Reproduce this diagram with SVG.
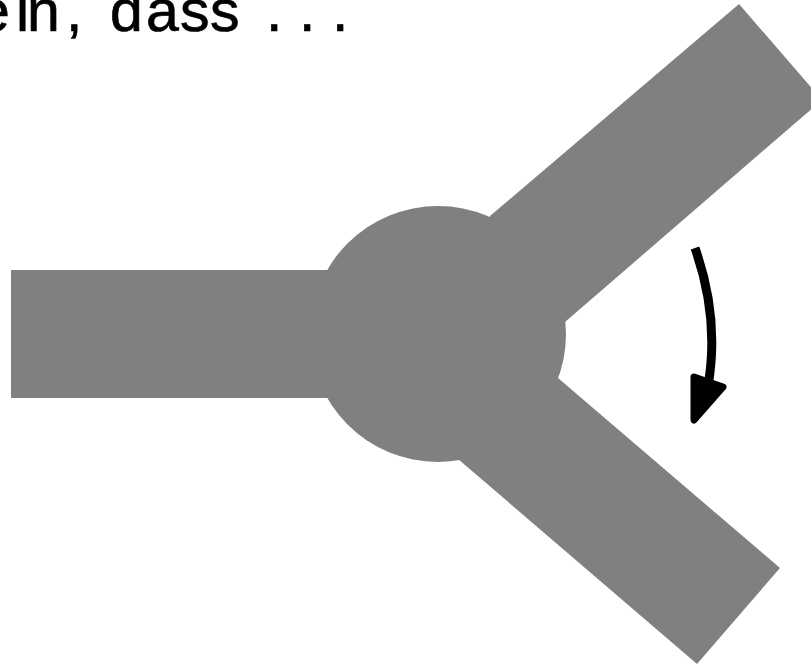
<svg xmlns="http://www.w3.org/2000/svg" width="811" height="667" viewBox="0 0 811 667">
<style>.s{fill:#808080}.t{font-family:'Liberation Sans',sans-serif;font-size:59px;fill:#000;stroke:#000;stroke-width:.7px}</style>
<rect width="811" height="667" fill="#fff"/>
<text class="t" y="31"><tspan x="-23">e</tspan><tspan x="16">i</tspan><tspan x="27">n</tspan><tspan x="66">,</tspan><tspan x="110">d</tspan><tspan x="146">a</tspan><tspan x="180">s</tspan><tspan x="210">s</tspan><tspan x="266">.</tspan><tspan x="299">.</tspan><tspan x="332">.</tspan></text>
<g id="hub"><circle class="s" cx="438" cy="334" r="128"/></g>
<g id="arm-left"><rect class="s" x="11" y="270" width="427" height="128"/></g>
<g id="arm-upper"><polygon class="s" points="739,4 822,100 565,322 438,334 490,216"/></g>
<g id="arm-lower"><polygon class="s" points="558,378 780,568 697,664 458,459 438,334"/></g>
<g id="connectors">
<path d="M695 248C712 296 716 340 708 386" fill="none" stroke="#000" stroke-width="9"/>
<polygon points="694,377 723,387 694,420" stroke="#000" stroke-width="7" stroke-linejoin="round"/>
</g>
</svg>
